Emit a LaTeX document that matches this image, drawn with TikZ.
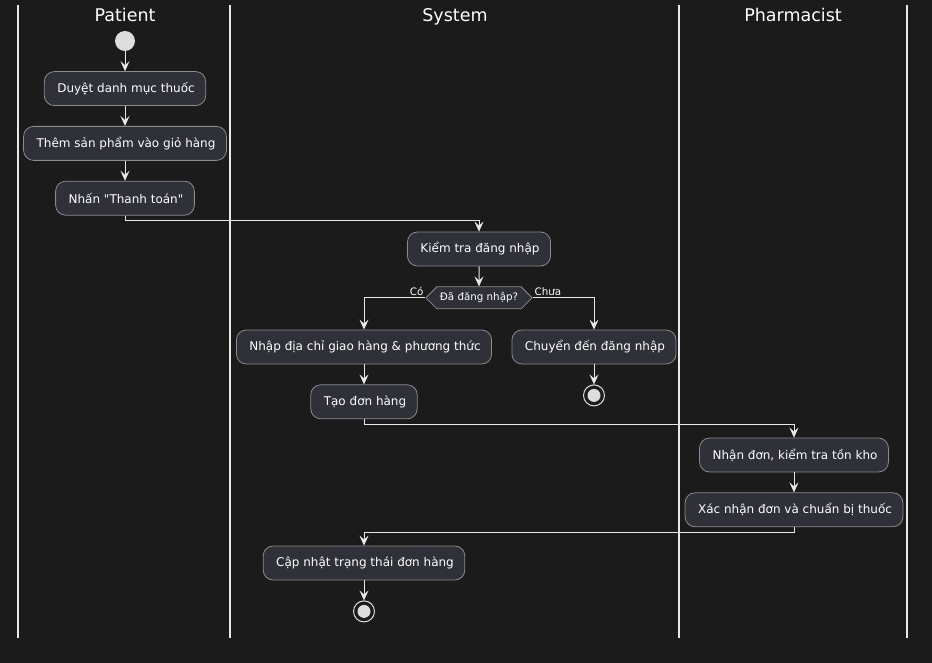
\documentclass[tikz,border=0pt]{standalone}
\usepackage{fontspec}
\setmainfont{DejaVu Sans}
\usetikzlibrary{positioning, arrows.meta, shapes.symbols}

\definecolor{bgcol}{HTML}{1B1B1B}
\definecolor{boxcol}{HTML}{2F3038}
\definecolor{edgecol}{HTML}{8C8C8C}
\definecolor{linecol}{HTML}{E8E8E8}
\definecolor{dotcol}{HTML}{DDDDDD}

\begin{document}
\begin{tikzpicture}[
        x=1pt, y=-1pt,
        node distance=20pt,
        actbox/.style={
            rectangle,
            rounded corners=10pt,
            draw=edgecol,
            fill=boxcol,
            line width=0.8pt,
            text=white,
            minimum height=34pt,
            inner xsep=11pt,
            font=\fontsize{12}{14}\selectfont
        },
        decision/.style={
            signal, signal to=west and east,
            draw=edgecol, fill=boxcol, line width=0.8pt,
            text=white, minimum height=22pt, inner xsep=3pt, inner ysep=2pt,
            font=\fontsize{10.3}{12}\selectfont
        },
        startdot/.style={circle, fill=dotcol, minimum size=20pt, inner sep=0pt},
        stopdot/.style={circle, draw=dotcol, fill=bgcol, line width=1pt,
            minimum size=21pt, inner sep=0pt,
            path picture={\fill[dotcol] (path picture bounding box.center) circle (6.5pt);}},
        lanehead/.style={text=white, text height=13pt, text depth=4pt,
            font=\fontsize{17.5}{20}\selectfont},
        lbl/.style={text=white, inner sep=1.5pt, font=\fontsize{10.3}{12}\selectfont},
        lane/.style={draw=linecol, line width=1.5pt},
        flow/.style={-{Stealth[length=10pt, width=9pt, inset=4pt]}, draw=linecol, line width=1pt}
    ]

    % background
    \fill[bgcol] (0,0) rectangle (932,663);
    \useasboundingbox (0,0) rectangle (932,663);

    % --- Lanes ---
    \foreach \lx in {18,230,679,907}
        \draw[lane] (\lx,5) -- (\lx,638);
    \node[lanehead] (hpat) at (125,17) {Patient};
    \node[lanehead] (hsys) at (455,17) {System};
    \node[lanehead] (hpha) at (793,17) {Pharmacist};

    % --- Nodes ---
    \node[startdot] (start) at (125,41) {};
    \node[actbox, below=of start] (browse) {\hspace{2pt}Duyệt danh mục thuốc};
    \node[actbox, below=of browse] (cart) {\hspace{2pt}Thêm sản phẩm vào giỏ hàng};
    \node[actbox, below=of cart] (pay) {\hspace{2pt}Nhấn \textquotedbl Thanh toán\textquotedbl};

    \node[actbox] (login) at (479,249) {\hspace{2pt}Kiểm tra đăng nhập};
    \node[decision, below=of login] (check) {Đã đăng nhập?};
    \node[actbox] (addr) at (364,347) {\hspace{2pt}Nhập địa chỉ giao hàng \& phương thức};
    \node[actbox] (move) at (594,347) {\hspace{2pt}Chuyển đến đăng nhập};
    \node[stopdot, below=of move] (stopA) {};
    \node[actbox, below=of addr] (order) {\hspace{2pt}Tạo đơn hàng};

    \node[actbox] (recv) at (794,455) {\hspace{2pt}Nhận đơn, kiểm tra tồn kho};
    \node[actbox, below=of recv] (confirm) {\hspace{2pt}Xác nhận đơn và chuẩn bị thuốc};

    \node[actbox] (update) at (364,563) {\hspace{2pt}Cập nhật trạng thái đơn hàng};
    \node[stopdot, below=of update] (stopB) {};

    % --- Arrows ---
    \draw[flow] (start) -- (browse);
    \draw[flow] (browse) -- (cart);
    \draw[flow] (cart) -- (pay);
    \draw[flow] (pay.south) -- ++(0,5) -| (login.north);
    \draw[flow] (login) -- (check);
    \draw[flow] (check.west) node[lbl, above left] {Có} -| (addr.north);
    \draw[flow] (check.east) node[lbl, above right] {Chưa} -| (move.north);
    \draw[flow] (move) -- (stopA);
    \draw[flow] (addr) -- (order);
    \draw[flow] (order.south) -- ++(0,5) -| (recv.north);
    \draw[flow] (recv) -- (confirm);
    \draw[flow] (confirm.south) -- ++(0,5) -| (update.north);
    \draw[flow] (update) -- (stopB);

\end{tikzpicture}
\end{document}
